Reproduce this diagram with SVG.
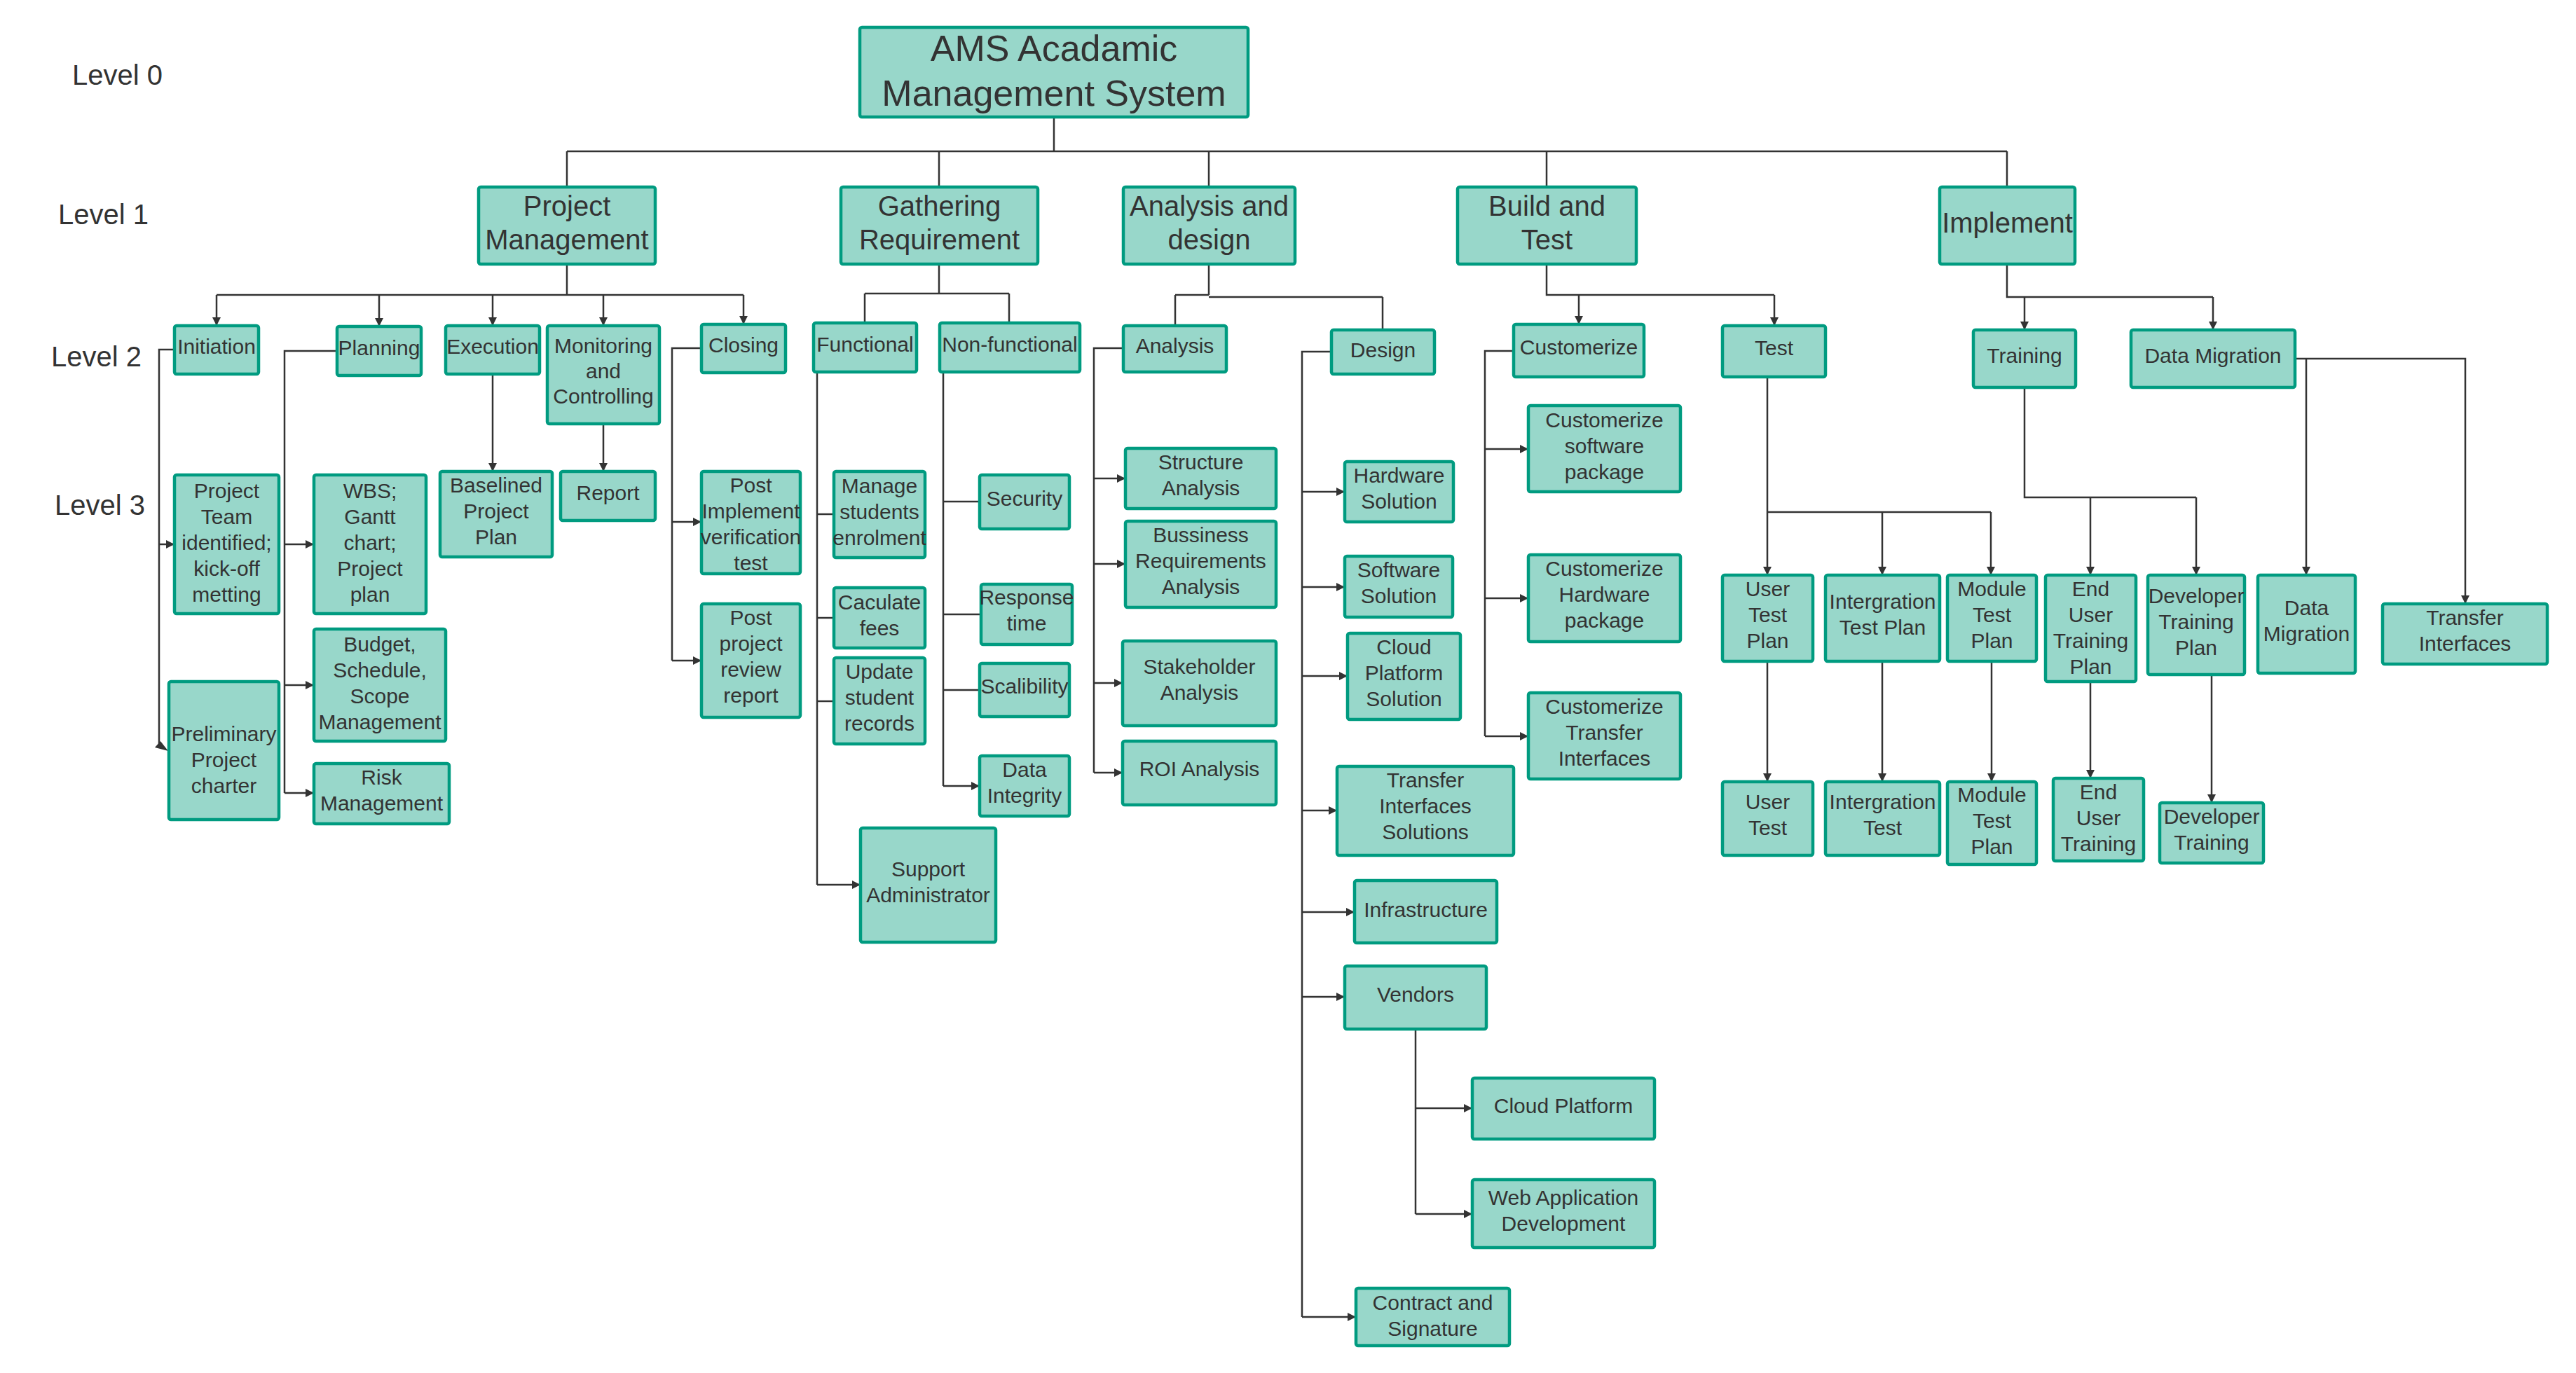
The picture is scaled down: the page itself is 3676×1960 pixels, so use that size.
<svg xmlns="http://www.w3.org/2000/svg" width="3676" height="1960" viewBox="0 0 3676 1960">
<style>
  .n rect { fill: #98d7ca; stroke: #009b80; stroke-width: 4.5; }
  text { font-family: "Liberation Sans", Arial, sans-serif; fill: #333333; }
  .n text { text-anchor: middle; font-size: 30px; }
  .l1 text { font-size: 40px; }
  .root text { font-size: 52px; }
  .lvl { font-size: 40px; }
  .c path { fill: none; stroke: #333333; stroke-width: 2.5; }
  .c path.a { marker-end: url(#ah); }
</style>
<defs>
  <marker id="ah" viewBox="0 0 10 10" refX="10" refY="5" markerWidth="17" markerHeight="12" markerUnits="userSpaceOnUse" orient="auto">
    <path d="M0,0 L10,5 L0,10 z" fill="#333333"/>
  </marker>
</defs>
<rect width="3676" height="1960" fill="#ffffff"/>

<!-- level captions -->
<text class="lvl" x="103" y="121">Level 0</text>
<text class="lvl" x="83" y="320">Level 1</text>
<text class="lvl" x="73" y="523">Level 2</text>
<text class="lvl" x="78" y="735">Level 3</text>

<!-- connectors -->
<g id="connectors" class="c">
  <!-- root to level 1 -->
  <path d="M1504,167 V216"/>
  <path d="M809,216 H2864"/>
  <path d="M809,216 V267 M1340,216 V267 M1725,216 V267 M2207,216 V267 M2864,216 V267"/>

  <!-- Project Management -->
  <path d="M809,377 V421 M309,421 H1061"/>
  <path class="a" d="M309,421 V465"/>
  <path class="a" d="M541,421 V466"/>
  <path class="a" d="M703,421 V465"/>
  <path class="a" d="M861,421 V465"/>
  <path class="a" d="M1061,421 V463"/>
  <path d="M249,499 H227 V1063"/>
  <path class="a" d="M227,777 H249"/>
  <path d="M481,501 H406 V1132"/>
  <path class="a" d="M406,777 H448"/>
  <path class="a" d="M406,978 H448"/>
  <path class="a" d="M406,1132 H448"/>
  <path class="a" d="M703,534 V673"/>
  <path class="a" d="M861,605 V673"/>
  <path d="M1001,497 H959 V943"/>
  <path class="a" d="M959,745 H1001"/>
  <path class="a" d="M959,943 H1001"/>

  <!-- Gathering Requirement -->
  <path d="M1340,377 V419 M1234,419 H1440 M1234,419 V461 M1440,419 V461"/>
  <path d="M1166,531 V1263 M1166,734 H1190 M1166,882 H1190 M1166,1001 H1190"/>
  <path class="a" d="M1166,1263 H1228"/>
  <path d="M1346,531 V1122 M1346,716 H1398 M1346,877 H1400 M1346,985 H1398"/>
  <path class="a" d="M1346,1122 H1398"/>

  <!-- Analysis and design -->
  <path d="M1725,377 V421 M1677,421 H1725 M1677,421 V465 M1725,424 H1973 M1973,424 V471"/>
  <path d="M1603,497 H1561 V1103"/>
  <path class="a" d="M1561,683 H1606"/>
  <path class="a" d="M1561,805 H1606"/>
  <path class="a" d="M1561,975 H1602"/>
  <path class="a" d="M1561,1103 H1602"/>
  <path d="M1900,502 H1858 V1880"/>
  <path class="a" d="M1858,702 H1919"/>
  <path class="a" d="M1858,838 H1919"/>
  <path class="a" d="M1858,965 H1923"/>
  <path class="a" d="M1858,1157 H1908"/>
  <path class="a" d="M1858,1302 H1933"/>
  <path class="a" d="M1858,1423 H1919"/>
  <path class="a" d="M1858,1880 H1935"/>
  <path d="M2020,1469 V1733"/>
  <path class="a" d="M2020,1582 H2101"/>
  <path class="a" d="M2020,1733 H2101"/>

  <!-- Build and Test -->
  <path d="M2207,377 V421 H2532"/>
  <path class="a" d="M2253,421 V463"/>
  <path class="a" d="M2532,421 V465"/>
  <path d="M2160,501 H2119 V1051"/>
  <path class="a" d="M2119,641 H2181"/>
  <path class="a" d="M2119,854 H2181"/>
  <path class="a" d="M2119,1051 H2181"/>
  <path class="a" d="M2522,538 V821"/>
  <path d="M2522,731 H2841"/>
  <path class="a" d="M2686,731 V821"/>
  <path class="a" d="M2841,731 V821"/>
  <path class="a" d="M2522,944 V1116"/>
  <path class="a" d="M2686,944 V1116"/>
  <path class="a" d="M2842,944 V1116"/>

  <!-- Implement -->
  <path d="M2864,377 V424 H3158"/>
  <path class="a" d="M2889,424 V471"/>
  <path class="a" d="M3158,424 V471"/>
  <path d="M2889,553 V710 H3134"/>
  <path class="a" d="M2983,710 V821"/>
  <path class="a" d="M3134,710 V821"/>
  <path class="a" d="M2983,973 V1111"/>
  <path class="a" d="M3156,963 V1146"/>
  <path class="a" d="M3275,512 H3518 V862"/>
  <path class="a" d="M3291,512 V821"/>
</g>
<!-- small head where the initiation branch meets the charter box -->
<polygon points="221,1067 229,1058 240,1072" fill="#333333"/>

<!-- level 0 -->
<g id="n-ams" class="n root">
  <rect x="1227" y="39" width="554" height="128" rx="3"/>
  <text x="1504" y="87"><tspan x="1504">AMS Acadamic</tspan><tspan x="1504" dy="64">Management System</tspan></text>
</g>

<!-- level 1 -->
<g id="n-pm" class="n l1">
  <rect x="683" y="267" width="252" height="110" rx="3"/>
  <text x="809" y="308"><tspan x="809">Project</tspan><tspan x="809" dy="48">Management</tspan></text>
</g>
<g id="n-gr" class="n l1">
  <rect x="1200" y="267" width="281" height="110" rx="3"/>
  <text x="1340.5" y="308"><tspan x="1340.5">Gathering</tspan><tspan x="1340.5" dy="48">Requirement</tspan></text>
</g>
<g id="n-ad" class="n l1">
  <rect x="1603" y="267" width="245" height="110" rx="3"/>
  <text x="1725.5" y="308"><tspan x="1725.5">Analysis and</tspan><tspan x="1725.5" dy="48">design</tspan></text>
</g>
<g id="n-bt" class="n l1">
  <rect x="2080" y="267" width="255" height="110" rx="3"/>
  <text x="2207.5" y="308"><tspan x="2207.5">Build and</tspan><tspan x="2207.5" dy="48">Test</tspan></text>
</g>
<g id="n-impl" class="n l1">
  <rect x="2768" y="267" width="193" height="110" rx="3"/>
  <text x="2864.5" y="332">Implement</text>
</g>

<!-- level 2 -->
<g id="n-initiation" class="n"><rect x="249" y="465" width="120" height="69" rx="3"/><text x="309" y="505">Initiation</text></g>
<g id="n-planning" class="n"><rect x="481" y="466" width="120" height="70" rx="3"/><text x="541" y="507">Planning</text></g>
<g id="n-execution" class="n"><rect x="636" y="465" width="134" height="69" rx="3"/><text x="703" y="505">Execution</text></g>
<g id="n-monitoring" class="n"><rect x="781" y="465" width="160" height="140" rx="3"/>
  <text x="861" y="504"><tspan x="861">Monitoring</tspan><tspan x="861" dy="36">and</tspan><tspan x="861" dy="36">Controlling</tspan></text></g>
<g id="n-closing" class="n"><rect x="1001" y="463" width="120" height="69" rx="3"/><text x="1061" y="503">Closing</text></g>
<g id="n-functional" class="n"><rect x="1161" y="461" width="147" height="70" rx="3"/><text x="1234.5" y="502">Functional</text></g>
<g id="n-nonfunctional" class="n"><rect x="1341" y="461" width="200" height="70" rx="3"/><text x="1441" y="502">Non-functional</text></g>
<g id="n-analysis" class="n"><rect x="1603" y="465" width="147" height="66" rx="3"/><text x="1676.5" y="504">Analysis</text></g>
<g id="n-design" class="n"><rect x="1900" y="471" width="147" height="63" rx="3"/><text x="1973.5" y="510">Design</text></g>
<g id="n-customerize" class="n"><rect x="2160" y="463" width="186" height="75" rx="3"/><text x="2253" y="506">Customerize</text></g>
<g id="n-test" class="n"><rect x="2458" y="465" width="147" height="73" rx="3"/><text x="2531.5" y="507">Test</text></g>
<g id="n-training" class="n"><rect x="2816" y="471" width="146" height="82" rx="3"/><text x="2889" y="518">Training</text></g>
<g id="n-datamig" class="n"><rect x="3041" y="471" width="234" height="82" rx="3"/><text x="3158" y="518">Data Migration</text></g>

<!-- level 3: project management -->
<g id="n-team" class="n"><rect x="249" y="678" width="149" height="198" rx="3"/>
  <text x="323.5" y="711"><tspan x="323.5">Project</tspan><tspan x="323.5" dy="37">Team</tspan><tspan x="323.5" dy="37">identified;</tspan><tspan x="323.5" dy="37">kick-off</tspan><tspan x="323.5" dy="37">metting</tspan></text></g>
<g id="n-charter" class="n"><rect x="241" y="973" width="157" height="197" rx="3"/>
  <text x="319.5" y="1058"><tspan x="319.5">Preliminary</tspan><tspan x="319.5" dy="37">Project</tspan><tspan x="319.5" dy="37">charter</tspan></text></g>
<g id="n-wbs" class="n"><rect x="448" y="678" width="160" height="198" rx="3"/>
  <text x="528" y="711"><tspan x="528">WBS;</tspan><tspan x="528" dy="37">Gantt</tspan><tspan x="528" dy="37">chart;</tspan><tspan x="528" dy="37">Project</tspan><tspan x="528" dy="37">plan</tspan></text></g>
<g id="n-budget" class="n"><rect x="448" y="898" width="188" height="160" rx="3"/>
  <text x="542" y="930"><tspan x="542">Budget,</tspan><tspan x="542" dy="37">Schedule,</tspan><tspan x="542" dy="37">Scope</tspan><tspan x="542" dy="37">Management</tspan></text></g>
<g id="n-risk" class="n"><rect x="448" y="1090" width="193" height="86" rx="3"/>
  <text x="544.5" y="1120"><tspan x="544.5">Risk</tspan><tspan x="544.5" dy="37">Management</tspan></text></g>
<g id="n-baselined" class="n"><rect x="628" y="673" width="160" height="122" rx="3"/>
  <text x="708" y="703"><tspan x="708">Baselined</tspan><tspan x="708" dy="37">Project</tspan><tspan x="708" dy="37">Plan</tspan></text></g>
<g id="n-report" class="n"><rect x="800" y="673" width="135" height="70" rx="3"/><text x="867.5" y="714">Report</text></g>
<g id="n-pivt" class="n"><rect x="1001" y="673" width="141" height="146" rx="3"/>
  <text x="1071.5" y="703"><tspan x="1071.5">Post</tspan><tspan x="1071.5" dy="37">Implement</tspan><tspan x="1071.5" dy="37">verification</tspan><tspan x="1071.5" dy="37">test</tspan></text></g>
<g id="n-pprr" class="n"><rect x="1001" y="862" width="141" height="162" rx="3"/>
  <text x="1071.5" y="892"><tspan x="1071.5">Post</tspan><tspan x="1071.5" dy="37">project</tspan><tspan x="1071.5" dy="37">review</tspan><tspan x="1071.5" dy="37">report</tspan></text></g>

<!-- level 3: gathering requirement -->
<g id="n-enrol" class="n"><rect x="1190" y="673" width="130" height="123" rx="3"/>
  <text x="1255" y="704"><tspan x="1255">Manage</tspan><tspan x="1255" dy="37">students</tspan><tspan x="1255" dy="37">enrolment</tspan></text></g>
<g id="n-fees" class="n"><rect x="1190" y="839" width="130" height="86" rx="3"/>
  <text x="1255" y="870"><tspan x="1255">Caculate</tspan><tspan x="1255" dy="37">fees</tspan></text></g>
<g id="n-records" class="n"><rect x="1190" y="939" width="130" height="123" rx="3"/>
  <text x="1255" y="969"><tspan x="1255">Update</tspan><tspan x="1255" dy="37">student</tspan><tspan x="1255" dy="37">records</tspan></text></g>
<g id="n-support" class="n"><rect x="1228" y="1182" width="193" height="163" rx="3"/>
  <text x="1324.5" y="1251"><tspan x="1324.5">Support</tspan><tspan x="1324.5" dy="37">Administrator</tspan></text></g>
<g id="n-security" class="n"><rect x="1398" y="678" width="128" height="77" rx="3"/><text x="1462" y="722">Security</text></g>
<g id="n-response" class="n"><rect x="1400" y="834" width="130" height="86" rx="3"/>
  <text x="1465" y="863"><tspan x="1465">Response</tspan><tspan x="1465" dy="37">time</tspan></text></g>
<g id="n-scal" class="n"><rect x="1398" y="947" width="128" height="76" rx="3"/><text x="1462" y="990">Scalibility</text></g>
<g id="n-integrity" class="n"><rect x="1398" y="1079" width="128" height="86" rx="3"/>
  <text x="1462" y="1109"><tspan x="1462">Data</tspan><tspan x="1462" dy="37">Integrity</tspan></text></g>

<!-- level 3: analysis and design -->
<g id="n-structure" class="n"><rect x="1606" y="640" width="215" height="86" rx="3"/>
  <text x="1713.5" y="670"><tspan x="1713.5">Structure</tspan><tspan x="1713.5" dy="37">Analysis</tspan></text></g>
<g id="n-bra" class="n"><rect x="1606" y="744" width="215" height="123" rx="3"/>
  <text x="1713.5" y="774"><tspan x="1713.5">Bussiness</tspan><tspan x="1713.5" dy="37">Requirements</tspan><tspan x="1713.5" dy="37">Analysis</tspan></text></g>
<g id="n-stake" class="n"><rect x="1602" y="915" width="219" height="121" rx="3"/>
  <text x="1711.5" y="962"><tspan x="1711.5">Stakeholder</tspan><tspan x="1711.5" dy="37">Analysis</tspan></text></g>
<g id="n-roi" class="n"><rect x="1602" y="1058" width="219" height="91" rx="3"/><text x="1711.5" y="1108">ROI Analysis</text></g>
<g id="n-hw" class="n"><rect x="1919" y="659" width="155" height="86" rx="3"/>
  <text x="1996.5" y="689"><tspan x="1996.5">Hardware</tspan><tspan x="1996.5" dy="37">Solution</tspan></text></g>
<g id="n-sw" class="n"><rect x="1919" y="794" width="154" height="87" rx="3"/>
  <text x="1996" y="824"><tspan x="1996">Software</tspan><tspan x="1996" dy="37">Solution</tspan></text></g>
<g id="n-cps" class="n"><rect x="1923" y="904" width="161" height="123" rx="3"/>
  <text x="2003.5" y="934"><tspan x="2003.5">Cloud</tspan><tspan x="2003.5" dy="37">Platform</tspan><tspan x="2003.5" dy="37">Solution</tspan></text></g>
<g id="n-tis" class="n"><rect x="1908" y="1094" width="252" height="127" rx="3"/>
  <text x="2034" y="1124"><tspan x="2034">Transfer</tspan><tspan x="2034" dy="37">Interfaces</tspan><tspan x="2034" dy="37">Solutions</tspan></text></g>
<g id="n-infra" class="n"><rect x="1933" y="1257" width="203" height="89" rx="3"/><text x="2034.5" y="1309">Infrastructure</text></g>
<g id="n-vendors" class="n"><rect x="1919" y="1379" width="202" height="90" rx="3"/><text x="2020" y="1430">Vendors</text></g>
<g id="n-cloud" class="n"><rect x="2101" y="1539" width="260" height="87" rx="3"/><text x="2231" y="1589">Cloud Platform</text></g>
<g id="n-webapp" class="n"><rect x="2101" y="1684" width="260" height="97" rx="3"/>
  <text x="2231" y="1720"><tspan x="2231">Web Application</tspan><tspan x="2231" dy="37">Development</tspan></text></g>
<g id="n-contract" class="n"><rect x="1935" y="1839" width="219" height="82" rx="3"/>
  <text x="2044.5" y="1870"><tspan x="2044.5">Contract and</tspan><tspan x="2044.5" dy="37">Signature</tspan></text></g>

<!-- level 3: build and test -->
<g id="n-csp" class="n"><rect x="2181" y="579" width="217" height="123" rx="3"/>
  <text x="2289.5" y="610"><tspan x="2289.5">Customerize</tspan><tspan x="2289.5" dy="37">software</tspan><tspan x="2289.5" dy="37">package</tspan></text></g>
<g id="n-chp" class="n"><rect x="2181" y="792" width="217" height="124" rx="3"/>
  <text x="2289.5" y="822"><tspan x="2289.5">Customerize</tspan><tspan x="2289.5" dy="37">Hardware</tspan><tspan x="2289.5" dy="37">package</tspan></text></g>
<g id="n-cti" class="n"><rect x="2181" y="989" width="217" height="123" rx="3"/>
  <text x="2289.5" y="1019"><tspan x="2289.5">Customerize</tspan><tspan x="2289.5" dy="37">Transfer</tspan><tspan x="2289.5" dy="37">Interfaces</tspan></text></g>
<g id="n-utp" class="n"><rect x="2458" y="821" width="129" height="123" rx="3"/>
  <text x="2522.5" y="851"><tspan x="2522.5">User</tspan><tspan x="2522.5" dy="37">Test</tspan><tspan x="2522.5" dy="37">Plan</tspan></text></g>
<g id="n-itp" class="n"><rect x="2605" y="821" width="163" height="123" rx="3"/>
  <text x="2686.5" y="869"><tspan x="2686.5">Intergration</tspan><tspan x="2686.5" dy="37">Test Plan</tspan></text></g>
<g id="n-mtp" class="n"><rect x="2779" y="821" width="127" height="123" rx="3"/>
  <text x="2842.5" y="851"><tspan x="2842.5">Module</tspan><tspan x="2842.5" dy="37">Test</tspan><tspan x="2842.5" dy="37">Plan</tspan></text></g>
<g id="n-ut" class="n"><rect x="2458" y="1116" width="129" height="105" rx="3"/>
  <text x="2522.5" y="1155"><tspan x="2522.5">User</tspan><tspan x="2522.5" dy="37">Test</tspan></text></g>
<g id="n-it" class="n"><rect x="2605" y="1116" width="163" height="105" rx="3"/>
  <text x="2686.5" y="1155"><tspan x="2686.5">Intergration</tspan><tspan x="2686.5" dy="37">Test</tspan></text></g>
<g id="n-mtp2" class="n"><rect x="2779" y="1116" width="127" height="118" rx="3"/>
  <text x="2842.5" y="1145"><tspan x="2842.5">Module</tspan><tspan x="2842.5" dy="37">Test</tspan><tspan x="2842.5" dy="37">Plan</tspan></text></g>

<!-- level 3: implement -->
<g id="n-eutp" class="n"><rect x="2919" y="821" width="129" height="152" rx="3"/>
  <text x="2983.5" y="851"><tspan x="2983.5">End</tspan><tspan x="2983.5" dy="37">User</tspan><tspan x="2983.5" dy="37">Training</tspan><tspan x="2983.5" dy="37">Plan</tspan></text></g>
<g id="n-dtp" class="n"><rect x="3065" y="821" width="138" height="142" rx="3"/>
  <text x="3134" y="861"><tspan x="3134">Developer</tspan><tspan x="3134" dy="37">Training</tspan><tspan x="3134" dy="37">Plan</tspan></text></g>
<g id="n-dm3" class="n"><rect x="3222" y="821" width="139" height="140" rx="3"/>
  <text x="3291.5" y="878"><tspan x="3291.5">Data</tspan><tspan x="3291.5" dy="37">Migration</tspan></text></g>
<g id="n-ti" class="n"><rect x="3400" y="862" width="235" height="86" rx="3"/>
  <text x="3517.5" y="892"><tspan x="3517.5">Transfer</tspan><tspan x="3517.5" dy="37">Interfaces</tspan></text></g>
<g id="n-eut" class="n"><rect x="2930" y="1111" width="129" height="118" rx="3"/>
  <text x="2994.5" y="1141"><tspan x="2994.5">End</tspan><tspan x="2994.5" dy="37">User</tspan><tspan x="2994.5" dy="37">Training</tspan></text></g>
<g id="n-dt" class="n"><rect x="3082" y="1146" width="148" height="86" rx="3"/>
  <text x="3156" y="1176"><tspan x="3156">Developer</tspan><tspan x="3156" dy="37">Training</tspan></text></g>
</svg>
